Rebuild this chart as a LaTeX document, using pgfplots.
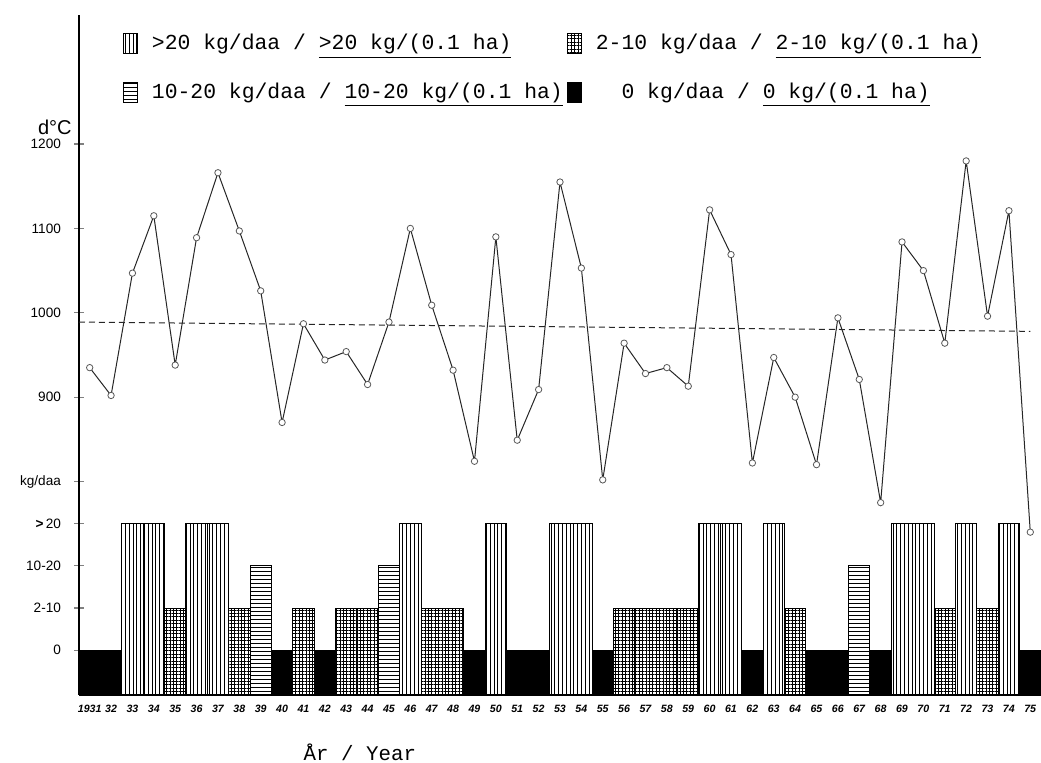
\documentclass[border=0pt]{standalone}
\usepackage{fontspec}
\setmainfont{Liberation Mono}
\setsansfont{Liberation Sans}
\usepackage{pgfplots}
\pgfplotsset{compat=1.18}
\usetikzlibrary{patterns.meta}

% fill styles for the four dose classes
\tikzset{
  over20/.style={draw=black, line width=0.5pt,
    pattern={Lines[angle=90,distance=1.9pt,line width=0.45pt]}},
  mid/.style={draw=black, line width=0.5pt,
    pattern={Lines[angle=0,distance=2pt,line width=0.45pt]}},
  low/.style={draw=black, line width=0.5pt,
    pattern={Lines[angle=90,distance=1.7pt,line width=0.4pt]},
    postaction={pattern={Lines[angle=0,distance=1.7pt,line width=0.4pt]}}},
  zero/.style={draw=black, fill=black},
}

\begin{document}
\begin{tikzpicture}
\path[use as bounding box] (-39.5pt,-34pt) rectangle (481pt,347.5pt);
\begin{axis}[
  at={(0,0)}, anchor=south west,
  scale only axis, width=481pt, height=340pt,
  xmin=1930.5, xmax=1975.5,
  ymin=547, ymax=1353,
  axis x line=bottom, axis y line=left,
  axis line style={-, line width=0.6pt},
  xtick={1931,...,1975},
  xticklabels={1931,32,33,34,35,36,37,38,39,40,41,42,43,44,45,46,47,48,49,50,51,52,53,54,55,56,57,58,59,60,61,62,63,64,65,66,67,68,69,70,71,72,73,74,75},
  xtick style={draw=none},
  xticklabel style={font=\sffamily\bfseries\itshape\fontsize{5.3}{6}\selectfont, yshift=1pt},
  ytick={600,650,700,750,800,900,1000,1100,1200},
  yticklabels={0,2-10,10-20,{\bfseries >}\,20,kg/daa,900,1000,1100,1200},
  yticklabel style={font=\sffamily\fontsize{6.8}{8}\selectfont, xshift=-3pt},
  tick align=center, major tick length=5pt,
  ytick style={line width=0.6pt},
  ylabel={d°C},
  ylabel style={at={(rel axis cs:0,0.834)}, rotate=-90, anchor=east,
    xshift=-3.5pt, inner sep=0pt, font=\sffamily\fontsize{10}{11}\selectfont},
  xlabel={År / Year},
  xlabel style={at={(rel axis cs:0.292,0)}, anchor=north, yshift=-21pt,
    font=\fontsize{10.4}{12}\selectfont},
  legend columns=2,
  legend cell align=left,
  legend image code/.code={\draw[#1] (0pt,-5pt) rectangle (7pt,5pt);},
  legend style={at={(rel axis cs:0.039,0.984)}, anchor=north west,
    draw=none, fill=none, row sep=11pt,
    font=\fontsize{10.7}{12}\selectfont,
    /tikz/every odd column/.append style={column sep=5pt},
    /tikz/every even column/.append style={column sep=0pt}},
]
% dose classes, one bar per year
\addplot[ybar, bar width=1, bar shift=0pt, over20] coordinates {
  (1933,750) (1934,750) (1936,750) (1937,750) (1946,750) (1950,750)
  (1953,750) (1954,750) (1960,750) (1961,750) (1963,750) (1969,750)
  (1970,750) (1972,750) (1974,750)};
\addlegendentry{>20 kg/daa / \underline{>20 kg/(0.1 ha)}}
\addplot[ybar, bar width=1, bar shift=0pt, low] coordinates {
  (1935,650) (1938,650) (1941,650) (1943,650) (1944,650) (1947,650)
  (1948,650) (1956,650) (1957,650) (1958,650) (1959,650) (1964,650)
  (1971,650) (1973,650)};
\addlegendentry{2-10 kg/daa / \underline{2-10 kg/(0.1 ha)}}
\addplot[ybar, bar width=1, bar shift=0pt, mid] coordinates {
  (1939,700) (1945,700) (1967,700)};
\addlegendentry{10-20 kg/daa / \underline{10-20 kg/(0.1 ha)}}
\addplot[ybar, bar width=1, bar shift=0pt, zero] coordinates {
  (1931,600) (1932,600) (1940,600) (1942,600) (1949,600) (1951,600)
  (1952,600) (1955,600) (1962,600) (1965,600) (1966,600) (1968,600)
  (1975,600)};
\addlegendentry{\ \ 0 kg/daa / \underline{0 kg/(0.1 ha)}}

% mean level
\addplot[forget plot, black!85, line width=0.5pt, dash pattern=on 3pt off 2pt]
  coordinates {(1930.5,989) (1975,978)};

% temperature sum, day-degrees
\addplot[forget plot, black!85, line width=0.5pt, mark=*, mark size=1.6pt,
  mark options={fill=white, draw=black!65, line width=0.4pt}] coordinates {
  (1931,935) (1932,902) (1933,1047) (1934,1115) (1935,938) (1936,1089)
  (1937,1166) (1938,1097) (1939,1026) (1940,870) (1941,987) (1942,944)
  (1943,954) (1944,915) (1945,989) (1946,1100) (1947,1009) (1948,932)
  (1949,824) (1950,1090) (1951,849) (1952,909) (1953,1155) (1954,1053)
  (1955,802) (1956,964) (1957,928) (1958,935) (1959,913) (1960,1122)
  (1961,1069) (1962,822) (1963,947) (1964,900) (1965,820) (1966,994)
  (1967,921) (1968,775) (1969,1084) (1970,1050) (1971,964) (1972,1180)
  (1973,996) (1974,1121) (1975,740)};
\end{axis}
\end{tikzpicture}
\end{document}
